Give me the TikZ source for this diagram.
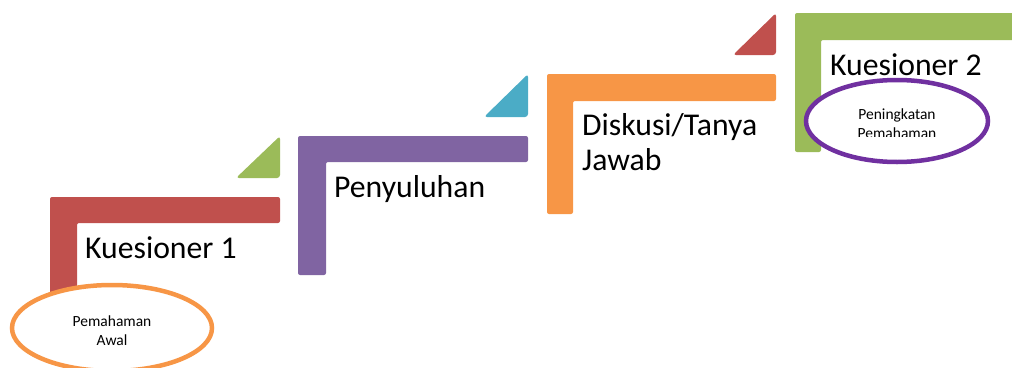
\documentclass[tikz,border=0pt]{standalone}
\usepackage{fontspec}
\setmainfont{Carlito}
\usetikzlibrary{shapes.geometric}
\definecolor{cred}{HTML}{C0504D}
\definecolor{cpurple}{HTML}{8064A2}
\definecolor{corange}{HTML}{F79646}
\definecolor{cgreen}{HTML}{9BBB59}
\definecolor{cblue}{HTML}{4BACC6}
\definecolor{cviolet}{HTML}{7030A0}
\begin{document}
\begin{tikzpicture}[x=1pt,y=-1pt,
  stepbar/.style={rounded corners=2pt},
  tri/.style={rounded corners=3pt},
  bigtext/.style={anchor=base west, inner sep=0pt, align=left, font=\fontsize{31.7}{35}\selectfont},
  smalltext/.style={anchor=base, inner sep=0pt, align=center, font=\fontsize{15.5}{19}\selectfont},
  oval/.style={ellipse, draw=#1, line width=4.5pt, fill=white, inner sep=0pt}]
\useasboundingbox (0,0) rectangle (1012,367);
\clip (0,0) rectangle (1012,367);
% steps
\fill[cred, stepbar] (50,197) -- (280,197) -- (280,223) -- (77,223) -- (77,320) -- (50,320) -- cycle;
\fill[cgreen, tri] (236,178) -- (280,178) -- (280,136) -- cycle;
\fill[cpurple, stepbar] (298,136) -- (528,136) -- (528,162) -- (326,162) -- (326,275) -- (298,275) -- cycle;
\fill[cblue, tri] (484,117) -- (528,117) -- (528,74) -- cycle;
\fill[corange, stepbar] (547,74) -- (776,74) -- (776,101) -- (573,101) -- (573,214) -- (547,214) -- cycle;
\fill[cred, tri] (733,55) -- (776,55) -- (776,13) -- cycle;
\fill[cgreen, stepbar] (795,13) -- (1030,13) -- (1030,40) -- (821,40) -- (821,152) -- (795,152) -- cycle;
% labels
\node[bigtext] (t1) at (85,258) {Kuesioner 1};
\node[bigtext] (t2) at (334,197) {Penyuluhan};
\node[bigtext] (t3) at (582,170) {Diskusi/Tanya\\Jawab};
\node[bigtext] (t4) at (830,75) {Kuesioner 2};
% ovals
\node[oval=corange, minimum width=200pt, minimum height=86pt] (e1) at (112,328) {};
\node[smalltext] (s1) at (112,345) {Pemahaman\\Awal};
\node[oval=cviolet, minimum width=182pt, minimum height=82pt] (e2) at (897,121) {};
\begin{scope}
\clip (840,100) rectangle (955,136);
\node[smalltext] (s2) at (897,138) {Peningkatan\\Pemahaman};
\end{scope}
\end{tikzpicture}
\end{document}
